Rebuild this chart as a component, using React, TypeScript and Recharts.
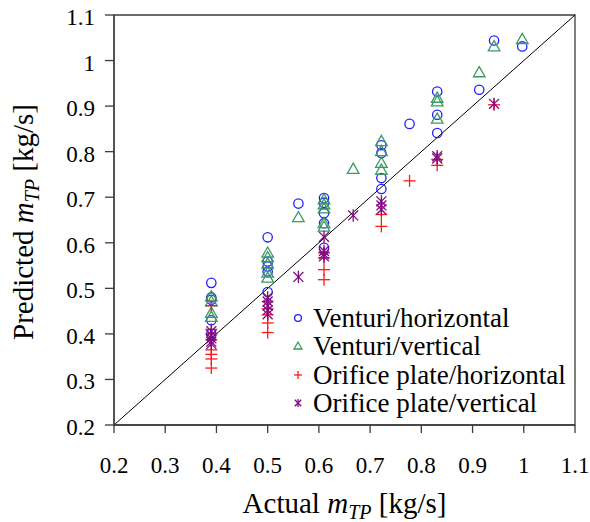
import React from 'react';
import {
  ScatterChart,
  Scatter,
  XAxis,
  YAxis,
  ReferenceLine,
  ReferenceArea,
  Legend,
} from 'recharts';

// Actual vs predicted two-phase mass flow, four meter/orientation groups
const AXIS_TICKS = [0.2, 0.3, 0.4, 0.5, 0.6, 0.7, 0.8, 0.9, 1, 1.1];

const ventHorizX = [0.39, 0.39, 0.39, 0.39, 0.39, 0.5, 0.5, 0.5, 0.5, 0.5, 0.56, 0.61, 0.61, 0.61, 0.61, 0.61, 0.722, 0.722, 0.722, 0.722, 0.777, 0.831, 0.831, 0.831, 0.913, 0.942, 0.997];
const ventHorizY = [0.512, 0.48, 0.475, 0.43, 0.4, 0.612, 0.559, 0.548, 0.537, 0.492, 0.686, 0.698, 0.688, 0.665, 0.643, 0.589, 0.814, 0.797, 0.742, 0.718, 0.861, 0.932, 0.881, 0.841, 0.936, 1.044, 1.031];

const ventVertX = [0.39, 0.39, 0.39, 0.39, 0.5, 0.5, 0.5, 0.5, 0.5, 0.56, 0.61, 0.61, 0.61, 0.61, 0.61, 0.667, 0.722, 0.722, 0.722, 0.722, 0.831, 0.831, 0.831, 0.913, 0.942, 0.997];
const ventVertY = [0.482, 0.471, 0.446, 0.437, 0.578, 0.568, 0.554, 0.534, 0.523, 0.656, 0.695, 0.684, 0.675, 0.643, 0.635, 0.762, 0.823, 0.801, 0.775, 0.76, 0.918, 0.91, 0.872, 0.974, 1.031, 1.047];

const orifHorizX = [0.39, 0.39, 0.39, 0.39, 0.39, 0.39, 0.39, 0.39, 0.5, 0.5, 0.5, 0.5, 0.5, 0.61, 0.61, 0.61, 0.61, 0.722, 0.722, 0.777, 0.831, 0.831, 0.942];
const orifHorizY = [0.462, 0.41, 0.4, 0.387, 0.365, 0.355, 0.345, 0.325, 0.471, 0.455, 0.442, 0.424, 0.403, 0.578, 0.567, 0.541, 0.519, 0.662, 0.636, 0.736, 0.783, 0.77, 0.903];

const orifVertX = [0.39, 0.39, 0.39, 0.39, 0.39, 0.5, 0.5, 0.5, 0.5, 0.5, 0.56, 0.61, 0.61, 0.61, 0.61, 0.667, 0.722, 0.722, 0.722, 0.831, 0.831, 0.942];
const orifVertY = [0.406, 0.397, 0.39, 0.383, 0.378, 0.48, 0.471, 0.462, 0.452, 0.443, 0.525, 0.613, 0.582, 0.575, 0.57, 0.66, 0.691, 0.682, 0.673, 0.79, 0.785, 0.905];

const toPoints = (xs: number[], ys: number[]) => xs.map((x, i) => ({ x, y: ys[i] }));

const FONT = "'Liberation Serif', 'Times New Roman', serif";
const BLUE = '#1f1fff';
const GREEN = '#3a9a62';
const RED = '#ff1a1a';
const PURPLE = '#800a80';
const FRAME = '#3c3c3c';

type MarkerKind = 'circle' | 'triangle' | 'plus' | 'star';

const Marker = ({ kind, cx, cy, color, s }: { kind: MarkerKind; cx: number; cy: number; color: string; s: number }) => {
  const sw = 1.3;
  if (kind === 'circle') {
    return <circle cx={cx} cy={cy} r={s * 0.85} fill="none" stroke={color} strokeWidth={sw} />;
  }
  if (kind === 'triangle') {
    const pts = `${cx},${cy - s} ${cx - s},${cy + s * 0.75} ${cx + s},${cy + s * 0.75}`;
    return <polygon points={pts} fill="none" stroke={color} strokeWidth={sw} />;
  }
  if (kind === 'plus') {
    return (
      <g stroke={color} strokeWidth={sw}>
        <line x1={cx - s} y1={cy} x2={cx + s} y2={cy} />
        <line x1={cx} y1={cy - s} x2={cx} y2={cy + s} />
      </g>
    );
  }
  const d = s * 0.8;
  return (
    <g stroke={color} strokeWidth={sw}>
      <line x1={cx} y1={cy - s} x2={cx} y2={cy + s} />
      <line x1={cx - d} y1={cy - d} x2={cx + d} y2={cy + d} />
      <line x1={cx - d} y1={cy + d} x2={cx + d} y2={cy - d} />
    </g>
  );
};

const SERIES: { name: string; kind: MarkerKind; color: string; size: number; data: { x: number; y: number }[] }[] = [
  { name: 'Venturi/horizontal', kind: 'circle', color: BLUE, size: 5.5, data: toPoints(ventHorizX, ventHorizY) },
  { name: 'Venturi/vertical', kind: 'triangle', color: GREEN, size: 5.8, data: toPoints(ventVertX, ventVertY) },
  { name: 'Orifice plate/horizontal', kind: 'plus', color: RED, size: 6, data: toPoints(orifHorizX, orifHorizY) },
  { name: 'Orifice plate/vertical', kind: 'star', color: PURPLE, size: 6.2, data: toPoints(orifVertX, orifVertY) },
];

const textStyle = { fontFamily: FONT };

const XTick = ({ x, y, payload }: any) => (
  <text x={x} y={y + 40} textAnchor="middle" style={textStyle} fontSize={23} fill="#000">
    {payload.value}
  </text>
);

const YTick = ({ x, y, payload }: any) => (
  <text x={x - 10} y={y + 10} textAnchor="end" style={textStyle} fontSize={23} fill="#000">
    {payload.value}
  </text>
);

const XTitle = ({ viewBox }: any) => (
  <text x={viewBox.x + viewBox.width / 2} y={513} textAnchor="middle" style={textStyle} fontSize={29} fill="#000">
    Actual <tspan fontStyle="italic">m</tspan>
    <tspan fontStyle="italic" fontSize={20} dy={6}>TP</tspan>
    <tspan dy={-6}> [kg/s]</tspan>
  </text>
);

const YTitle = () => (
  <text x={33} y={222} transform="rotate(-90 33 222)" textAnchor="middle" style={textStyle} fontSize={29} fill="#000">
    Predicted <tspan fontStyle="italic">m</tspan>
    <tspan fontStyle="italic" fontSize={20} dy={6}>TP</tspan>
    <tspan dy={-6}> [kg/s]</tspan>
  </text>
);

// Legend keeps the series order instead of the default alphabetical one
const LegendBox = () => (
  <div style={{ fontFamily: FONT, fontSize: 27, lineHeight: '28.3px', color: '#000' }}>
    {SERIES.map((s) => (
      <div key={s.name} style={{ display: 'flex', alignItems: 'flex-start', whiteSpace: 'nowrap' }}>
        <svg width={23} height={28} style={{ flex: 'none' }}>
          <Marker kind={s.kind} cx={8} cy={14} color={s.color} s={4} />
        </svg>
        <span>{s.name}</span>
      </div>
    ))}
  </div>
);

export default function App() {
  return (
    <div style={{ position: 'absolute', left: 0, top: 0, width: 590, height: 522, background: '#fff' }}>
      <ScatterChart width={590} height={522} margin={{ top: 15, right: 15, left: 0, bottom: 0 }}>
        <XAxis
          type="number"
          dataKey="x"
          domain={[0.2, 1.1]}
          ticks={AXIS_TICKS}
          interval={0}
          height={97}
          tickSize={8}
          tickMargin={0}
          tick={<XTick />}
          stroke={FRAME}
          strokeWidth={1.3}
          allowDataOverflow
          label={<XTitle />}
        />
        <YAxis
          type="number"
          dataKey="y"
          domain={[0.2, 1.1]}
          ticks={AXIS_TICKS}
          interval={0}
          width={114}
          tickSize={9}
          tickMargin={0}
          tick={<YTick />}
          stroke={FRAME}
          strokeWidth={1.3}
          allowDataOverflow
          label={<YTitle />}
        />
        <ReferenceArea x1={0.2} x2={1.1} y1={0.2} y2={1.1} fill="none" stroke={FRAME} strokeWidth={1.3} />
        <ReferenceLine
          segment={[{ x: 0.2, y: 0.2 }, { x: 1.1, y: 1.1 }]}
          stroke="#000"
          strokeWidth={1}
        />
        {SERIES.map((s) => (
          <Scatter
            key={s.name}
            name={s.name}
            data={s.data}
            fill={s.color}
            isAnimationActive={false}
            shape={(p: any) => <Marker kind={s.kind} cx={p.cx} cy={p.cy} color={s.color} s={s.size} />}
          />
        ))}
        <Legend
          layout="vertical"
          align="center"
          verticalAlign="middle"
          content={<LegendBox />}
          wrapperStyle={{ left: 290, top: 304, width: 295 }}
        />
      </ScatterChart>
    </div>
  );
}
